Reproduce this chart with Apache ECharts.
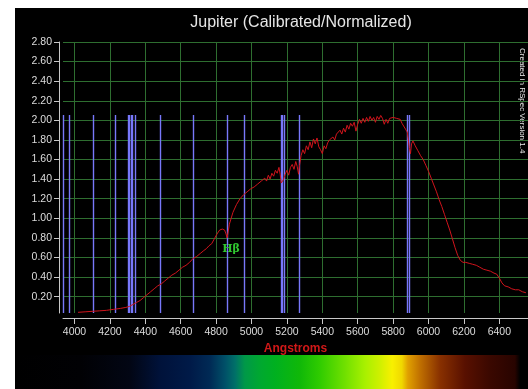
<!DOCTYPE html>
<html>
<head>
<meta charset="utf-8">
<script src="https://cdn.jsdelivr.net/npm/echarts@6.0.0/dist/echarts.min.js"></script>
<style>
  html, body { margin: 0; padding: 0; background: #fff; }
  #chart { width: 528px; height: 389px; }
</style>
</head>
<body>
<div id="chart"></div>
<script>
// wavelength (Angstrom) and normalized intensity
var wavelengths = [4020,4060,4100,4140,4180,4220,4260,4290,4310,4330,4350,4370,4390,4410,4430,4450,4470,4490,4510,4530,
  4550,4570,4590,4610,4630,4650,4670,4690,4710,4730,4745,4760,4775,4790,4805,4820,4835,4848,4856,4862,
  4868,4875,4885,4895,4905,4915,4925,4935,4945,4955,4965,4975,4985,4995,5005,5015,5025,5035,5045,5055,
  5065,5075,5085,5095,5105,5115,5125,5135,5145,5155,5162,5168,5175,5182,5190,5200,5210,5220,5230,5240,
  5250,5258,5266,5272,5280,5290,5300,5310,5320,5330,5340,5350,5360,5370,5380,5390,5400,5410,5420,5430,
  5440,5450,5460,5470,5480,5490,5500,5510,5520,5530,5540,5550,5560,5570,5580,5590,5600,5610,5620,5630,
  5640,5650,5660,5670,5680,5690,5700,5710,5720,5730,5740,5750,5760,5770,5780,5790,5800,5810,5820,5830,
  5840,5850,5860,5870,5880,5886,5892,5898,5904,5912,5925,5940,5955,5970,5985,6000,6015,6030,6045,6060,
  6075,6090,6105,6120,6135,6150,6165,6180,6195,6210,6230,6250,6270,6290,6310,6330,6350,6370,6385,6400,
  6415,6430,6450,6470,6490,6510,6530,6550];
var intensity = [0.04,0.045,0.05,0.055,0.06,0.07,0.08,0.09,0.10,0.12,0.14,0.16,0.19,0.22,0.25,0.28,0.31,0.33,0.36,0.39,
  0.42,0.44,0.47,0.50,0.52,0.55,0.59,0.61,0.64,0.67,0.69,0.72,0.74,0.79,0.84,0.88,0.89,0.88,0.84,0.80,
  0.86,0.94,1.00,1.06,1.08,1.14,1.16,1.20,1.19,1.24,1.22,1.27,1.26,1.30,1.28,1.32,1.30,1.35,1.33,1.38,
  1.36,1.41,1.38,1.44,1.40,1.46,1.43,1.49,1.46,1.52,1.45,1.36,1.34,1.40,1.45,1.49,1.44,1.52,1.55,1.50,
  1.58,1.53,1.45,1.55,1.64,1.70,1.66,1.74,1.70,1.78,1.72,1.81,1.76,1.82,1.73,1.70,1.66,1.74,1.71,1.77,
  1.80,1.78,1.83,1.80,1.86,1.84,1.90,1.86,1.92,1.88,1.95,1.91,1.97,1.94,1.98,1.89,1.96,2.01,1.97,2.02,
  1.98,2.03,1.99,2.04,2.00,2.03,1.98,2.04,2.01,2.05,2.02,1.96,2.01,1.97,2.02,2.00,2.03,2.04,2.02,2.04,
  2.01,1.97,1.95,1.91,1.88,1.86,1.72,1.66,1.76,1.79,1.74,1.69,1.64,1.60,1.54,1.48,1.41,1.34,1.27,1.19,
  1.12,1.04,0.96,0.88,0.79,0.70,0.62,0.57,0.55,0.55,0.54,0.53,0.52,0.50,0.48,0.47,0.46,0.44,0.43,0.39,
  0.34,0.31,0.30,0.28,0.27,0.27,0.25,0.24];
// reference line markers (Angstrom)
var refLines = [3936,3969,4102,4227,4300,4308,4318,4326,4340,4481,4668,4861,4957,5167,5173,5183,5270,5880,5891];
var refLineTop = 2.05;
var xTicks = [4000,4200,4400,4600,4800,5000,5200,5400,5600,5800,6000,6200,6400];
var yTicks = [0.2,0.4,0.6,0.8,1.0,1.2,1.4,1.6,1.8,2.0,2.2,2.4,2.6,2.8];

var xMin = 3935, xMax = 6562, yMin = 0.033, yMax = 2.8;

var specData = wavelengths.map(function (w, i) { return [w, intensity[i]]; });

var myChart = echarts.init(document.getElementById('chart'));
var option = {
  backgroundColor: '#000',
  animation: false,
  title: {
    text: 'Jupiter (Calibrated/Normalized)',
    left: 296,
    top: 10,
    textAlign: 'center',
    textStyle: { color: '#e6e6e6', fontSize: 16, fontWeight: 'normal', fontFamily: 'Liberation Sans, Arial' }
  },
  grid: { left: 63, right: 0, top: 42, bottom: 76 },
  xAxis: {
    type: 'value',
    min: xMin,
    max: xMax,
    splitNumber: 13,
    offset: 5,
    name: 'Angstroms',
    nameLocation: 'middle',
    nameGap: 23,
    nameTextStyle: { color: '#d01818', fontSize: 12, fontWeight: 'bold', fontFamily: 'Liberation Sans, Arial' },
    axisLine: { show: true, lineStyle: { color: '#c8c8c8', width: 1 } },
    axisTick: { show: true, length: 6, lineStyle: { color: '#c8c8c8' }, customValues: xTicks },
    axisLabel: {
      color: '#dcdcdc', fontSize: 10.5, fontFamily: 'Liberation Sans, Arial', margin: 9,
      customValues: xTicks,
      formatter: function (v) { return String(v); }
    },
    splitLine: { show: true, lineStyle: { color: '#2e6e30', width: 1 } }
  },
  yAxis: {
    type: 'value',
    min: yMin,
    max: yMax,
    splitNumber: 14,
    offset: 4,
    axisLine: { show: true, lineStyle: { color: '#c8c8c8', width: 1 } },
    axisTick: { show: true, length: 5, lineStyle: { color: '#c8c8c8' }, customValues: yTicks },
    axisLabel: {
      color: '#dcdcdc', fontSize: 10.5, fontFamily: 'Liberation Sans, Arial', margin: 7,
      customValues: yTicks,
      formatter: function (v) { return v.toFixed(2); }
    },
    splitLine: { show: true, lineStyle: { color: '#2e6e30', width: 1 } }
  },
  series: [
    {
      // blue reference-line markers
      type: 'custom',
      silent: true,
      data: refLines,
      encode: { x: 0 },
      renderItem: function (params, api) {
        var bottom = api.coord([api.value(0), yMin]);
        var top = api.coord([api.value(0), refLineTop]);
        var x = Math.round(bottom[0]) + 0.5;
        return {
          type: 'line',
          shape: { x1: x, y1: Math.round(bottom[1]), x2: x, y2: Math.round(top[1]) },
          style: { stroke: '#7878fa', lineWidth: 1.4 }
        };
      }
    },
    {
      type: 'line',
      data: specData,
      showSymbol: false,
      lineStyle: { color: '#d0141c', width: 1 },
      markPoint: {
        symbol: 'circle',
        symbolSize: 0,
        label: {
          show: true, formatter: 'Hβ', color: '#30c830', fontSize: 11, fontWeight: 'bold',
          fontFamily: 'DejaVu Serif, serif'
        },
        data: [{ coord: [4884, 0.685] }]
      }
    }
  ],
  graphic: [
    { type: 'rect', shape: { x: 0, y: 0, width: 528, height: 8 }, style: { fill: '#fff' }, silent: true },
    { type: 'rect', shape: { x: 0, y: 0, width: 15, height: 389 }, style: { fill: '#fff' }, silent: true },
    {
      type: 'rect',
      shape: { x: 15, y: 355, width: 505, height: 34 },
      silent: true,
      style: {
        fill: new echarts.graphic.LinearGradient(0, 0, 1, 0, [
          { offset: 0, color: '#000000' },
          { offset: 0.129, color: '#010104' },
          { offset: 0.228, color: '#020614' },
          { offset: 0.287, color: '#00123a' },
          { offset: 0.347, color: '#001a48' },
          { offset: 0.386, color: '#002a55' },
          { offset: 0.416, color: '#005068' },
          { offset: 0.436, color: '#007068' },
          { offset: 0.455, color: '#009848' },
          { offset: 0.485, color: '#00a830' },
          { offset: 0.515, color: '#00b020' },
          { offset: 0.564, color: '#10b808' },
          { offset: 0.604, color: '#30cc00' },
          { offset: 0.653, color: '#70e000' },
          { offset: 0.693, color: '#a8f000' },
          { offset: 0.723, color: '#d0f000' },
          { offset: 0.747, color: '#f8f000' },
          { offset: 0.766, color: '#f0d800' },
          { offset: 0.778, color: '#e0a000' },
          { offset: 0.802, color: '#c07000' },
          { offset: 0.842, color: '#883000' },
          { offset: 0.891, color: '#581000' },
          { offset: 0.941, color: '#3a0800' },
          { offset: 0.99, color: '#280400' },
          { offset: 1, color: '#000000' }
        ])
      }
    },
    {
      type: 'text',
      x: 522,
      y: 48,
      rotation: -Math.PI / 2,
      silent: true,
      style: {
        text: 'Created in RSpec Version 1.4',
        fill: '#e8e8e8',
        font: '8px Liberation Sans, Arial',
        textAlign: 'left',
        textVerticalAlign: 'middle'
      }
    }
  ]
};
myChart.setOption(option);
window.addEventListener('resize', function () { myChart.resize(); });
</script>
</body>
</html>
